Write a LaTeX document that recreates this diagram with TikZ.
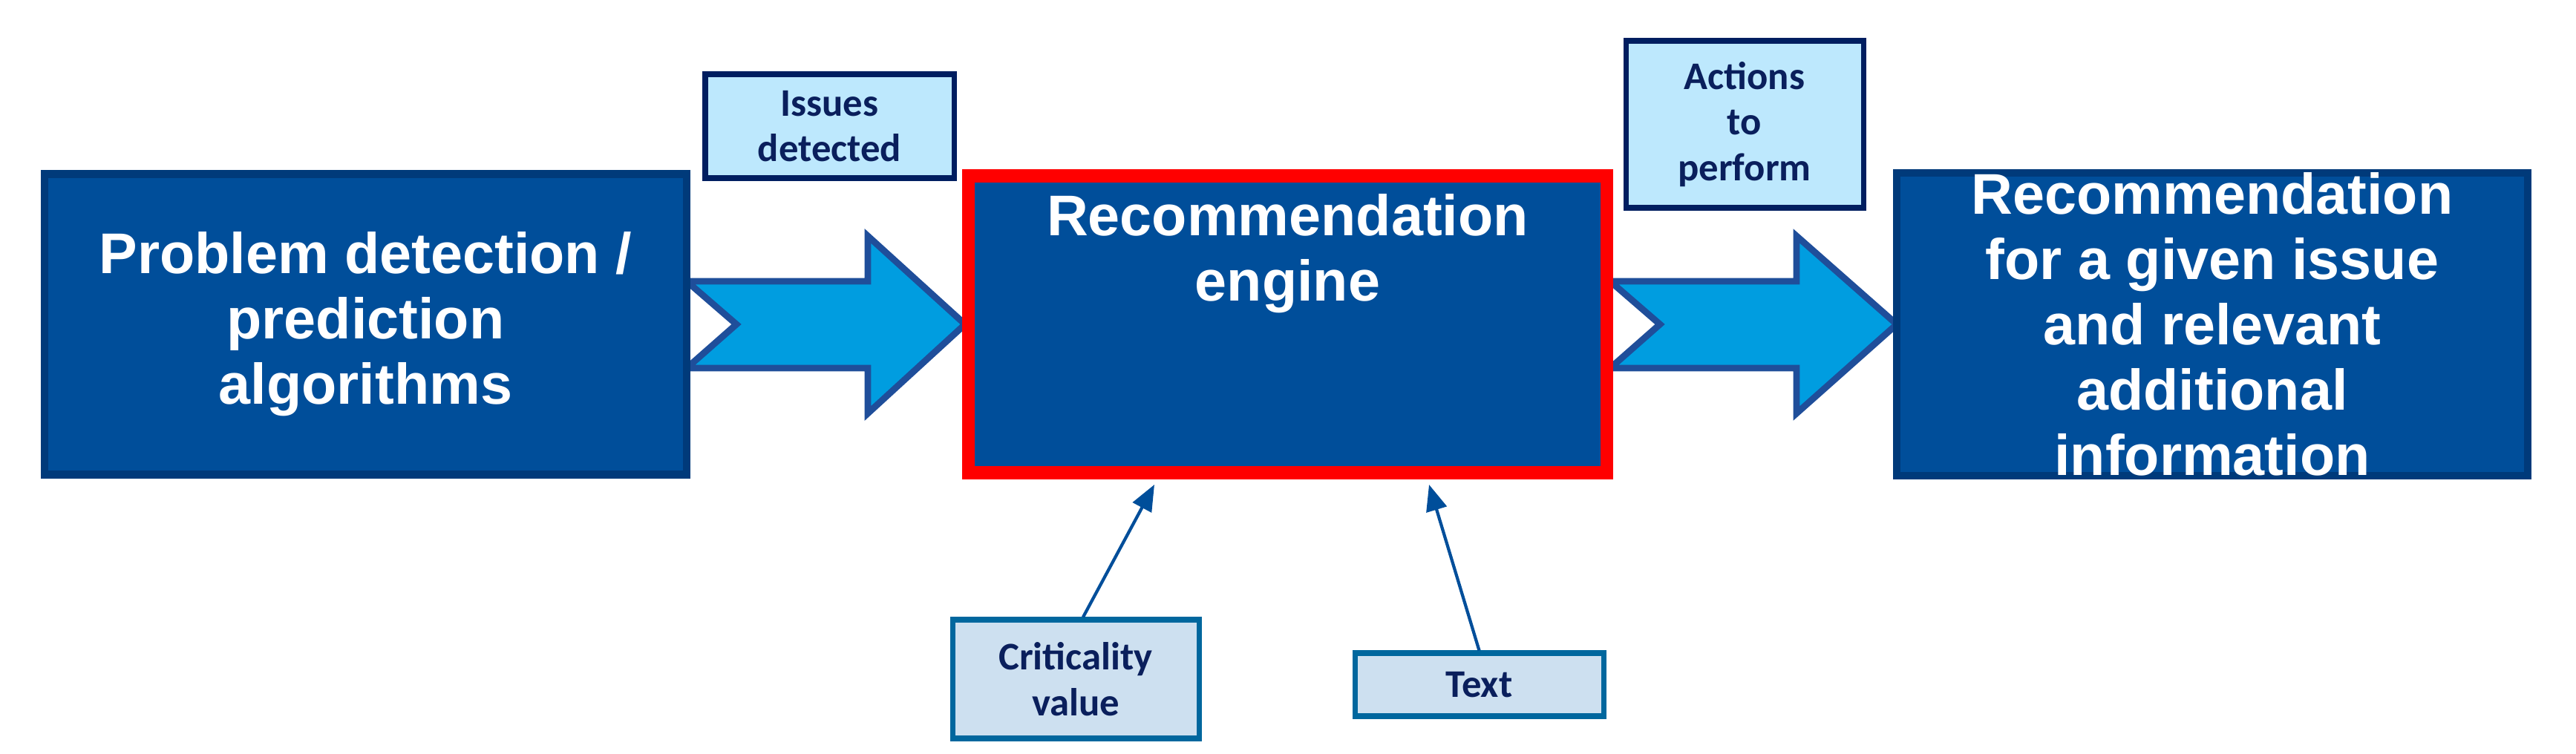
\documentclass[tikz,border=0pt]{standalone}
\usepackage{fontspec}
\setmainfont{Liberation Sans}
\newfontfamily\smallf{Carlito}
\usetikzlibrary{arrows.meta}
\definecolor{boxblue}{HTML}{004E9A}
\definecolor{boxedge}{HTML}{003A7A}
\definecolor{arrfill}{HTML}{009DE0}
\definecolor{arredge}{HTML}{1F4E9A}
\definecolor{topfill}{HTML}{BDE8FD}
\definecolor{topedge}{HTML}{001E60}
\definecolor{botfill}{HTML}{CDE0F0}
\definecolor{botedge}{HTML}{00679E}
\definecolor{smtext}{HTML}{0A1F5C}
\begin{document}
\begin{tikzpicture}[
  big/.style={draw=boxedge, line width=3pt, fill=boxblue, text=white, align=center,
    font=\fontsize{22}{25}\selectfont\bfseries, minimum height=4.05cm, inner sep=0pt},
  top/.style={draw=topedge, line width=2pt, fill=topfill, text=smtext, align=center,
    font=\smallf\fontsize{15}{17.5}\selectfont\bfseries, inner sep=0pt},
  bot/.style={draw=botedge, line width=2pt, fill=botfill, text=smtext, align=center,
    font=\smallf\fontsize{15}{17.5}\selectfont\bfseries, inner sep=0pt},
  blk/.style={draw=arredge, line width=2.5pt, fill=arrfill, line join=miter},
  thin/.style={draw=boxblue, line width=1.2pt, -{Triangle[length=10pt,width=8pt]}}
]
\useasboundingbox (0,0) rectangle (34.7,10.15);
% block arrows
\draw[blk] (9.25,6.36) -- (11.69,6.36) -- (11.69,6.97) -- (13.0,5.78) -- (11.69,4.58) -- (11.69,5.19) -- (9.25,5.19) -- (9.92,5.78) -- cycle;
\draw[blk] (21.69,6.36) -- (24.2,6.36) -- (24.2,6.97) -- (25.55,5.78) -- (24.2,4.58) -- (24.2,5.19) -- (21.69,5.19) -- (22.36,5.78) -- cycle;
\node[big, minimum width=8.65cm] (L) at (4.925,5.78) {Problem detection /\\prediction\\algorithms};
\node[big, draw=red, line width=5pt, minimum width=8.6cm, minimum height=4.0cm] (C) at (17.345,5.78) {Recommendation\\engine\\[1.2cm]};
\node[big, minimum width=8.5cm] (R) at (29.8,5.78) {Recommendation\\for a given issue\\and relevant\\additional\\information};
\node[top, minimum width=3.35cm, minimum height=1.4cm] (I) at (11.175,8.45) {Issues\\detected};
\node[top, minimum width=3.2cm, minimum height=2.25cm] (A) at (23.5,8.475) {Actions\\to\\perform};
\node[bot, minimum width=3.32cm, minimum height=1.6cm] (K) at (14.49,1.0) {Criticality\\value};
\node[bot, minimum width=3.35cm, minimum height=0.85cm] (T) at (19.925,0.925) {Text};
\coordinate (k1) at (15.55,3.62);
\coordinate (t1) at (19.25,3.62);
\draw[thin] (K.north) ++(0.1,0) -- (k1);
\draw[thin] (T.north) -- (t1);
\end{tikzpicture}
\end{document}
